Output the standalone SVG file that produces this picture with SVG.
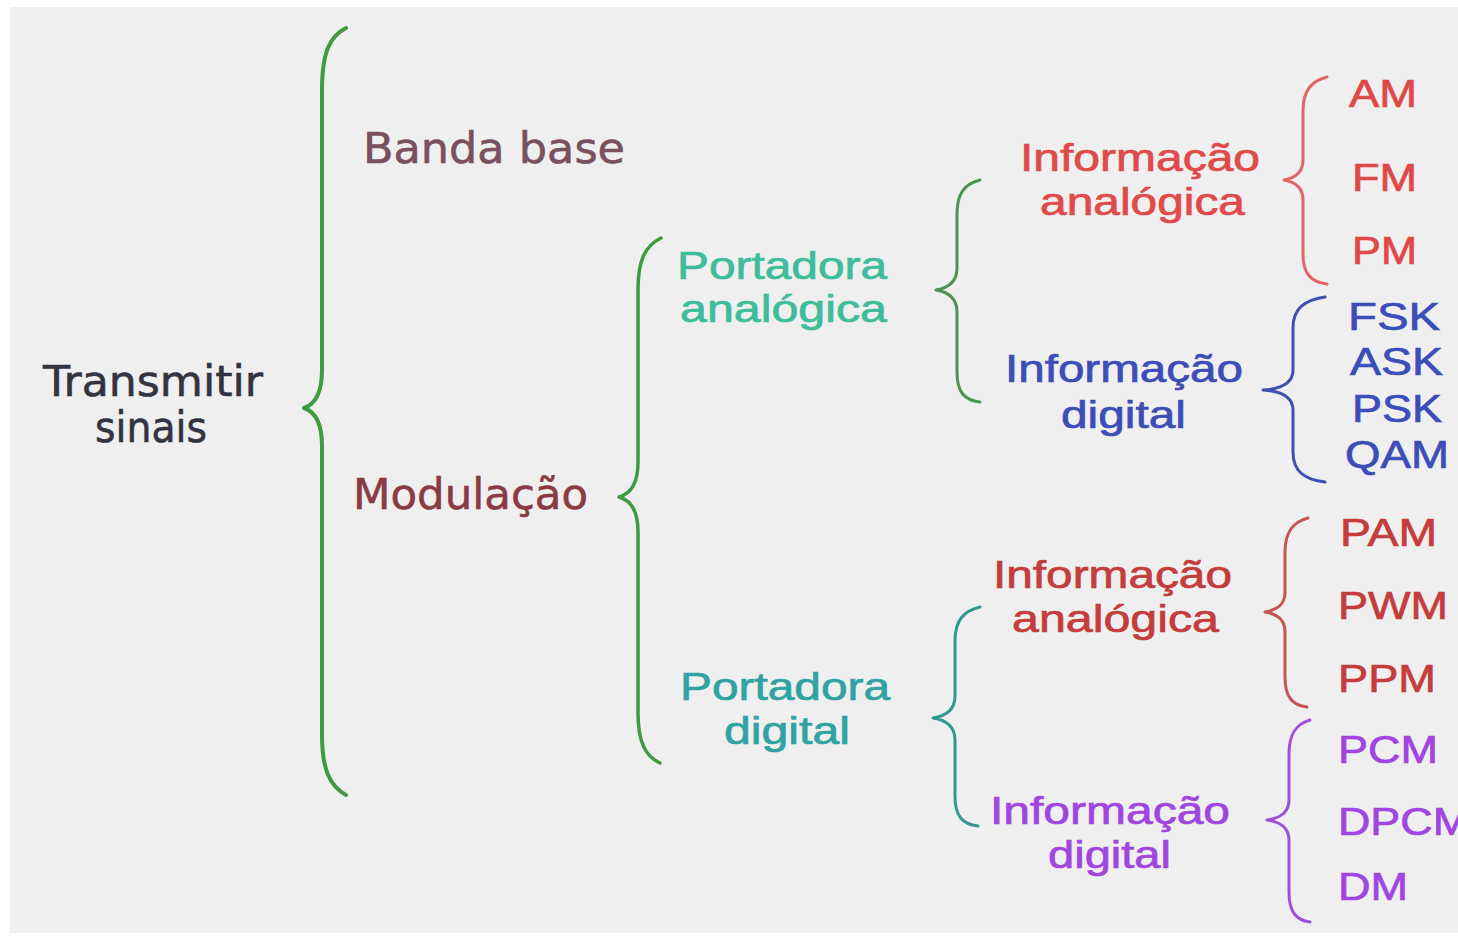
<svg xmlns="http://www.w3.org/2000/svg" width="1458" height="937" viewBox="0 0 1458 937">
<style>
.br{fill:none;stroke-linecap:round;stroke-linejoin:round}
.big{font-family:"DejaVu Sans",Verdana,sans-serif;font-size:43px;stroke-width:0.6}
.lab{font-family:"Liberation Sans",Arial,sans-serif;font-size:38px;stroke-width:0.7}
</style>
<rect x="0" y="0" width="1458" height="937" fill="#ffffff"/>
<rect x="10" y="7" width="1448" height="926" fill="#efefef"/>

<g id="connectors">
  <path class="br" stroke="#3f9b40" stroke-width="4" d="M346,28 C330,36 322,52 322,90 L322,370 C322,392 316,404 304,408 C316,412 322,424 322,446 L322,735 C322,770 330,786 346,795"/>
  <path class="br" stroke="#3f9b40" stroke-width="3.5" d="M661,238 C645,246 638,260 638,290 L638,462 C638,484 630,494 619,497 C630,500 638,510 638,532 L638,712 C638,742 645,756 660,763"/>
  <path class="br" stroke="#4a9450" stroke-width="3" d="M980,180 C964,184 957,194 957,214 L957,268 C957,282 948,288 936,290 C948,292 957,298 957,312 L957,372 C957,392 964,400 980,402"/>
  <path class="br" stroke="#e06666" stroke-width="3" d="M1327,77 C1311,81 1303,91 1303,111 L1303,160 C1303,173 1295,178 1284,180 C1295,182 1303,187 1303,200 L1303,254 C1303,274 1311,282 1327,284"/>
  <path class="br" stroke="#3e50b0" stroke-width="3" d="M1325,297 C1305,300 1293,308 1293,328 L1293,370 C1293,384 1280,389 1263,390 C1280,391 1293,396 1293,410 L1293,452 C1293,472 1305,480 1325,482"/>
  <path class="br" stroke="#2e9a8e" stroke-width="3" d="M980,607 C963,611 955,621 955,641 L955,696 C955,710 946,716 933,718 C946,720 955,726 955,740 L955,796 C955,816 962,824 978,826"/>
  <path class="br" stroke="#c65454" stroke-width="3" d="M1308,518 C1293,522 1285,532 1285,552 L1285,592 C1285,605 1277,610 1265,612 C1277,614 1285,619 1285,632 L1285,677 C1285,697 1292,705 1307,707"/>
  <path class="br" stroke="#a050d8" stroke-width="3" d="M1310,720 C1296,724 1289,734 1289,754 L1289,800 C1289,813 1280,818 1267,820 C1280,822 1289,827 1289,840 L1289,892 C1289,912 1296,920 1310,922"/>
</g>

<g id="n-transmitir">
  <text class="big" fill="#333340" stroke="#333340" x="43" y="396" textLength="220" lengthAdjust="spacingAndGlyphs">Transmitir</text>
  <text class="big" fill="#333340" stroke="#333340" x="95" y="442" textLength="112" lengthAdjust="spacingAndGlyphs">sinais</text>
</g>
<g id="n-banda">
  <text class="big" fill="#7a4f5e" stroke="#7a4f5e" x="363" y="163" textLength="262" lengthAdjust="spacingAndGlyphs">Banda base</text>
</g>
<g id="n-modulacao">
  <text class="big" fill="#8a3a44" stroke="#8a3a44" x="353" y="509" textLength="235" lengthAdjust="spacingAndGlyphs">Modulação</text>
</g>
<g id="n-port-analog">
  <text class="lab" fill="#3dbd9a" stroke="#3dbd9a" x="677" y="279" textLength="210" lengthAdjust="spacingAndGlyphs">Portadora</text>
  <text class="lab" fill="#3dbd9a" stroke="#3dbd9a" x="680" y="322" textLength="207" lengthAdjust="spacingAndGlyphs">analógica</text>
</g>
<g id="n-port-digital">
  <text class="lab" fill="#2fa3a3" stroke="#2fa3a3" x="680" y="700" textLength="210" lengthAdjust="spacingAndGlyphs">Portadora</text>
  <text class="lab" fill="#2fa3a3" stroke="#2fa3a3" x="724" y="744" textLength="126" lengthAdjust="spacingAndGlyphs">digital</text>
</g>
<g id="n-info-analog-1">
  <text class="lab" fill="#e04a4a" stroke="#e04a4a" x="1020" y="171" textLength="240" lengthAdjust="spacingAndGlyphs">Informação</text>
  <text class="lab" fill="#e04a4a" stroke="#e04a4a" x="1040" y="215" textLength="205" lengthAdjust="spacingAndGlyphs">analógica</text>
</g>
<g id="n-info-digital-1">
  <text class="lab" fill="#3b4db8" stroke="#3b4db8" x="1005" y="382" textLength="238" lengthAdjust="spacingAndGlyphs">Informação</text>
  <text class="lab" fill="#3b4db8" stroke="#3b4db8" x="1061" y="428" textLength="125" lengthAdjust="spacingAndGlyphs">digital</text>
</g>
<g id="n-info-analog-2">
  <text class="lab" fill="#c43c3c" stroke="#c43c3c" x="993" y="588" textLength="239" lengthAdjust="spacingAndGlyphs">Informação</text>
  <text class="lab" fill="#c43c3c" stroke="#c43c3c" x="1012" y="632" textLength="207" lengthAdjust="spacingAndGlyphs">analógica</text>
</g>
<g id="n-info-digital-2">
  <text class="lab" fill="#a045e0" stroke="#a045e0" x="990" y="824" textLength="240" lengthAdjust="spacingAndGlyphs">Informação</text>
  <text class="lab" fill="#a045e0" stroke="#a045e0" x="1048" y="868" textLength="123" lengthAdjust="spacingAndGlyphs">digital</text>
</g>
<g id="n-am"><text class="lab" fill="#e04848" stroke="#e04848" x="1349" y="107" textLength="68" lengthAdjust="spacingAndGlyphs">AM</text></g>
<g id="n-fm"><text class="lab" fill="#e04848" stroke="#e04848" x="1352" y="191" textLength="65" lengthAdjust="spacingAndGlyphs">FM</text></g>
<g id="n-pm"><text class="lab" fill="#e04848" stroke="#e04848" x="1352" y="264" textLength="65" lengthAdjust="spacingAndGlyphs">PM</text></g>
<g id="n-fsk"><text class="lab" fill="#3b4db8" stroke="#3b4db8" x="1348" y="330" textLength="92" lengthAdjust="spacingAndGlyphs">FSK</text></g>
<g id="n-ask"><text class="lab" fill="#3b4db8" stroke="#3b4db8" x="1350" y="375" textLength="93" lengthAdjust="spacingAndGlyphs">ASK</text></g>
<g id="n-psk"><text class="lab" fill="#3b4db8" stroke="#3b4db8" x="1352" y="422" textLength="90" lengthAdjust="spacingAndGlyphs">PSK</text></g>
<g id="n-qam"><text class="lab" fill="#3b4db8" stroke="#3b4db8" x="1345" y="468" textLength="104" lengthAdjust="spacingAndGlyphs">QAM</text></g>
<g id="n-pam"><text class="lab" fill="#c43c3c" stroke="#c43c3c" x="1340" y="546" textLength="97" lengthAdjust="spacingAndGlyphs">PAM</text></g>
<g id="n-pwm"><text class="lab" fill="#c43c3c" stroke="#c43c3c" x="1338" y="619" textLength="110" lengthAdjust="spacingAndGlyphs">PWM</text></g>
<g id="n-ppm"><text class="lab" fill="#c43c3c" stroke="#c43c3c" x="1338" y="692" textLength="98" lengthAdjust="spacingAndGlyphs">PPM</text></g>
<g id="n-pcm"><text class="lab" fill="#a045e0" stroke="#a045e0" x="1338" y="763" textLength="100" lengthAdjust="spacingAndGlyphs">PCM</text></g>
<g id="n-dpcm"><text class="lab" fill="#a045e0" stroke="#a045e0" x="1338" y="835" textLength="132" lengthAdjust="spacingAndGlyphs">DPCM</text></g>
<g id="n-dm"><text class="lab" fill="#a045e0" stroke="#a045e0" x="1338" y="900" textLength="70" lengthAdjust="spacingAndGlyphs">DM</text></g>
</svg>
